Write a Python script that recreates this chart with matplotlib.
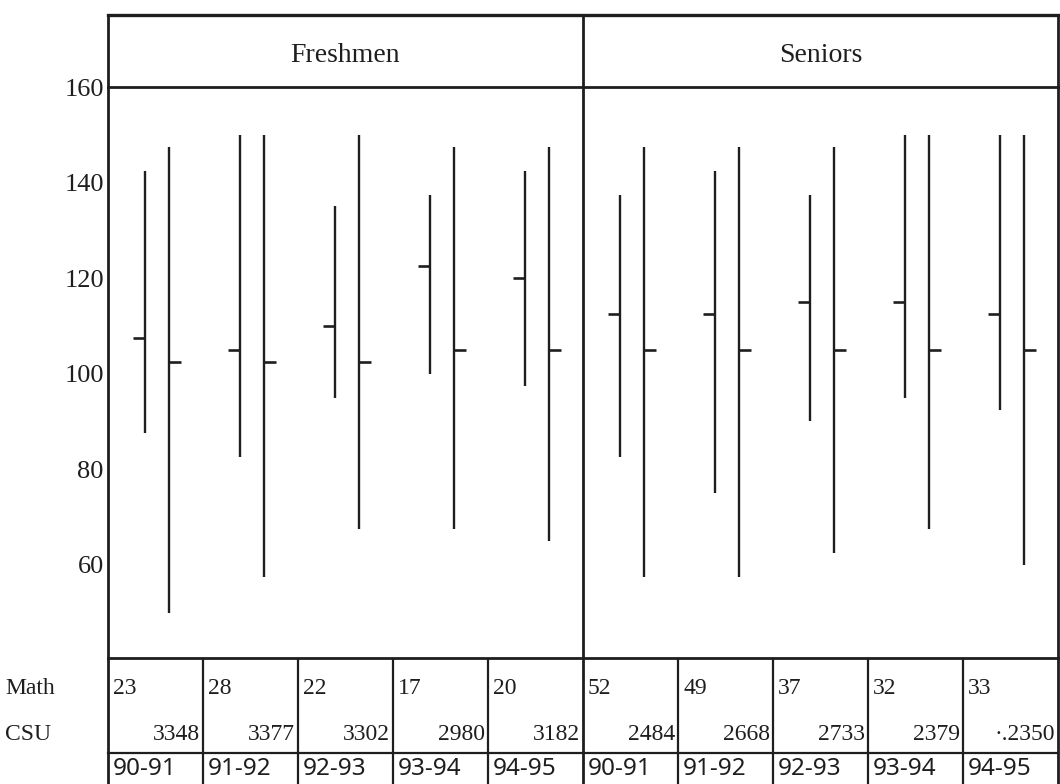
import matplotlib
matplotlib.use('Agg')
import matplotlib.pyplot as plt

# ---- data ----
panels = ['Freshmen', 'Seniors']
years = ['90-91', '91-92', '92-93', '93-94', '94-95']

# Freshmen
fr_math_top = [142.5, 150, 135, 137.5, 142.5]
fr_math_mean = [107.5, 105, 110, 122.5, 120]
fr_math_low = [87.5, 82.5, 95, 100, 97.5]
fr_csu_top = [147.5, 150, 150, 147.5, 147.5]
fr_csu_mean = [102.5, 102.5, 102.5, 105, 105]
fr_csu_low = [50, 57.5, 67.5, 67.5, 65]

# Seniors
sr_math_top = [137.5, 142.5, 137.5, 150, 150]
sr_math_mean = [112.5, 112.5, 115, 115, 112.5]
sr_math_low = [82.5, 75, 90, 95, 92.5]
sr_csu_top = [147.5, 147.5, 147.5, 150, 150]
sr_csu_mean = [105, 105, 105, 105, 105]
sr_csu_low = [57.5, 57.5, 62.5, 67.5, 60]

math_n = ['23', '28', '22', '17', '20', '52', '49', '37', '32', '33']
csu_n = ['3348', '3377', '3302', '2980', '3182', '2484', '2668', '2733', '2379', '·.2350']

yticks = [60, 80, 100, 120, 140, 160]

W, H = 1060, 784
INK = '#1e1e1e'
SERIF = 'Liberation Serif'

fig = plt.figure(figsize=(W / 100, H / 100), dpi=100)

def fx(x):
    return x / W

def fy(y):
    return 1 - y / H

# pixel layout
L, R = 108, 1058
MID = (L + R) / 2
TOP, HDR, BOT = 15, 87, 658

# overlay axes in pixel coords for frame and table
ov = fig.add_axes([0, 0, 1, 1])
ov.set_xlim(0, W)
ov.set_ylim(H, 0)
ov.axis('off')

# main plot axes
ax = fig.add_axes([fx(L), fy(BOT), fx(R - L), fy(HDR) - fy(BOT)])
ax.set_xlim(0, 10)
ax.set_ylim(40.5, 160)
for s in ax.spines.values():
    s.set_color(INK)
    s.set_linewidth(2)
ax.set_xticks([])
ax.set_yticks(yticks)
ax.set_yticklabels([str(t) for t in yticks], fontfamily=SERIF, fontsize=19)
ax.tick_params(axis='y', length=0, pad=3, colors=INK)
ax.axvline(5, color=INK, lw=2)

math_top = fr_math_top + sr_math_top
math_mean = fr_math_mean + sr_math_mean
math_low = fr_math_low + sr_math_low
csu_top = fr_csu_top + sr_csu_top
csu_mean = fr_csu_mean + sr_csu_mean
csu_low = fr_csu_low + sr_csu_low

xm = [i + 0.39 for i in range(10)]
xc = [i + 0.64 for i in range(10)]
tick = 0.13
ax.vlines(xm, math_low, math_top, color=INK, lw=1.7)
ax.vlines(xc, csu_low, csu_top, color=INK, lw=1.7)
ax.hlines(math_mean, [x - tick for x in xm], xm, color=INK, lw=1.9)
ax.hlines(csu_mean, xc, [x + tick for x in xc], color=INK, lw=1.9)

# header box
lw = 2
ov.plot([L, R], [TOP, TOP], color=INK, lw=2.4)
for x in (L, MID, R):
    ov.plot([x, x], [TOP, HDR], color=INK, lw=lw)
ov.text((L + MID) / 2, 55, panels[0], ha='center', va='center',
        fontfamily=SERIF, fontsize=20, color=INK)
ov.text((MID + R) / 2, 55, panels[1], ha='center', va='center',
        fontfamily=SERIF, fontsize=20, color=INK)

# table below the plot
cw = (R - L) / 10
edges = [L + i * cw for i in range(11)]
for i, x in enumerate(edges):
    ov.plot([x, x], [BOT, H + 5], color=INK, lw=lw if i in (0, 5, 10) else 1.6)
ov.plot([L, R], [753, 753], color=INK, lw=1.6)

ov.text(5, 688, 'Math', ha='left', va='center', fontfamily=SERIF, fontsize=17, color=INK)
ov.text(5, 735, 'CSU', ha='left', va='center', fontfamily=SERIF, fontsize=17, color=INK)
for i in range(10):
    ov.text(edges[i] + 5, 688, math_n[i], ha='left', va='center',
            fontfamily=SERIF, fontsize=17, color=INK)
    ov.text(edges[i + 1] - 3, 735, csu_n[i], ha='right', va='center',
            fontfamily=SERIF, fontsize=17, color=INK)
    ov.text(edges[i] + 5, 769, years[i % 5], ha='left', va='center',
            fontfamily='Noto Sans', fontsize=17.5, color=INK)

fig.savefig('out.png', dpi=100)
